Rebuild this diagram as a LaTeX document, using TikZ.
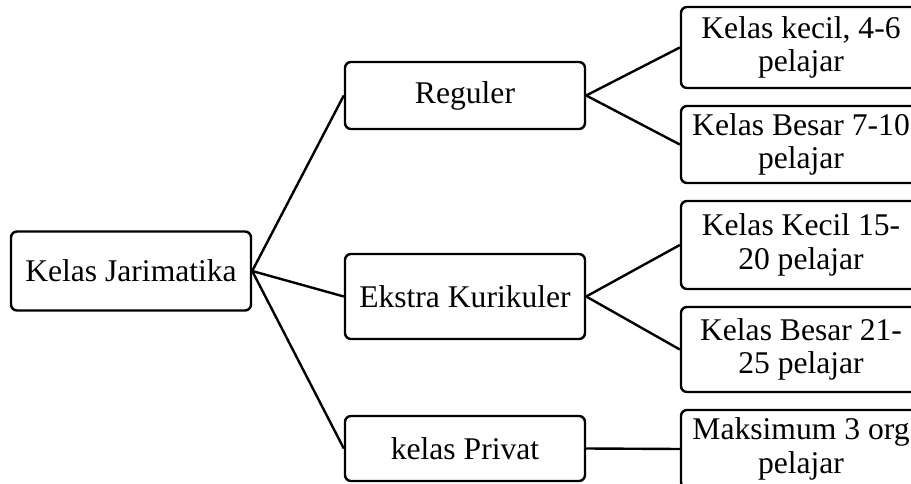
\documentclass[tikz,border=0pt]{standalone}
\usepackage{fontspec}
\setmainfont{Liberation Serif}
\begin{document}
\begin{tikzpicture}[x=1pt,y=-1pt,
  box/.style={draw=black, line width=2.4pt, rounded corners=6pt, fill=white,
    minimum width=240pt, inner sep=0pt, align=center,
    font=\fontsize{31.6}{33.5}\selectfont},
  link/.style={draw=black, line width=2.4pt}]
\useasboundingbox (0,0) rectangle (911,484);
\clip (0,0) rectangle (911,484);
\fill[white] (0,0) rectangle (911,484);
\node[box, minimum height=79pt] (root) at (131,271) {Kelas Jarimatika};
\node[box, minimum height=67pt] (reg) at (465,95.5) {Reguler};
\node[box, minimum height=85pt] (eks) at (465,296.5) {Ekstra Kurikuler};
\node[box, minimum height=65pt] (pri) at (465,448.5) {kelas Privat};
\node[box, minimum height=81pt] (l1) at (801,47.5) {Kelas kecil, 4-6\\pelajar};
\node[box, minimum height=77pt] (l2) at (801,144.5) {Kelas Besar 7-10\\pelajar};
\node[box, minimum height=88pt] (l3) at (801,245) {Kelas Kecil 15-\\20 pelajar};
\node[box, minimum height=85pt] (l4) at (801,349.5) {Kelas Besar 21-\\25 pelajar};
\node[box, minimum height=78pt] (l5) at (801,449) {Maksimum 3 org\\pelajar};
\draw[link] (root.east) -- (reg.west);
\draw[link] (root.east) -- (eks.west);
\draw[link] (root.east) -- (pri.west);
\draw[link] (reg.east) -- (l1.west);
\draw[link] (reg.east) -- (l2.west);
\draw[link] (eks.east) -- (l3.west);
\draw[link] (eks.east) -- (l4.west);
\draw[link] (pri.east) -- (l5.west);
\end{tikzpicture}
\end{document}
